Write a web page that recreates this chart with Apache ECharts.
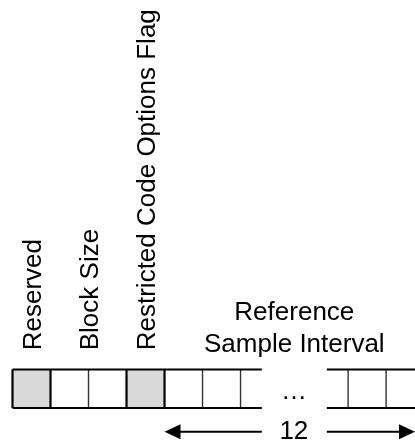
<!DOCTYPE html>
<html>
<head>
<meta charset="utf-8">
<script src="https://cdn.jsdelivr.net/npm/echarts@6/dist/echarts.min.js"></script>
<style>html,body{margin:0;padding:0;background:#fff}#c{width:415px;height:446px}</style>
</head>
<body>
<div id="c"></div>
<script>
// ---- data ----
const fieldNames = ['Reserved', 'Block Size', 'Restricted Code Options Flag', 'Reference\nSample Interval'];
const fieldStart = [0, 1, 3, 4];
const fieldBits = [1, 2, 1, 12];
const fieldShaded = [true, false, true, false];
const intervalLabel = '12';
const ellipsisText = '\u2026';

// ---- layout config ----
const FONT = 'Liberation Sans, Arial, sans-serif';
const FS = 26;
const breakStart = 6.56, breakEnd = 13.44, breakGap = 1.71;
const xMax = 15.76;
const totalBits = fieldStart[fieldStart.length - 1] + fieldBits[fieldBits.length - 1];
const segments = [[0, breakStart], [breakEnd, totalBits]];

// build bit cells
const bitData = [];
for (let b = 0; b < totalBits; b++) {
  let f = 0;
  for (let i = 0; i < fieldStart.length; i++) if (b >= fieldStart[i]) f = i;
  bitData.push([b, fieldShaded[f] ? 1 : 0, fieldStart.indexOf(b) >= 0 ? 1 : 0]);
}

const chart = echarts.init(document.getElementById('c'), null, {renderer: 'canvas'});
chart.setOption({
  animation: false,
  grid: {left: 12.5, right: 0, top: 369.5, bottom: 38},
  xAxis: {
    type: 'value', min: 0, max: xMax,
    breaks: [{start: breakStart, end: breakEnd, gap: breakGap}],
    breakArea: {show: false, itemStyle: {opacity: 0, borderWidth: 0}},
    axisLine: {show: false}, axisTick: {show: false}, axisLabel: {show: false}, splitLine: {show: false}
  },
  yAxis: {
    type: 'value', min: 0, max: 1,
    axisLine: {show: false}, axisTick: {show: false}, axisLabel: {show: false}, splitLine: {show: false}
  },
  series: [
    {
      type: 'custom', clip: false, z: 1,
      data: bitData,
      renderItem: function (params, api) {
        const b = api.value(0);
        const children = [];
        for (const s of segments) {
          const a = Math.max(b, s[0]), e = Math.min(b + 1, s[1]);
          if (e <= a) continue;
          const p0 = api.coord([a, 1]), p1 = api.coord([e, 0]);
          if (api.value(1)) {
            children.push({type: 'rect', shape: {x: p0[0], y: p0[1], width: p1[0] - p0[0], height: p1[1] - p0[1]},
              style: {fill: '#d9d9d9'}});
          }
          if (b >= s[0]) {
            const t = api.coord([b, 1]), d = api.coord([b, 0]);
            const thick = api.value(2) === 1;
            children.push({type: 'line', z2: thick ? 3 : 2, shape: {x1: t[0], y1: t[1], x2: d[0], y2: d[1]},
              style: {stroke: thick ? '#000' : '#333', lineWidth: thick ? 2.2 : 1.4}});
          }
        }
        return {type: 'group', children: children};
      }
    },
    {
      type: 'custom', clip: false, z: 2,
      data: segments,
      renderItem: function (params, api) {
        const s = api.value(0), e = api.value(1);
        const children = [];
        [1, 0].forEach(function (yv) {
          const p0 = api.coord([s, yv]), p1 = api.coord([e, yv]);
          children.push({type: 'line', shape: {x1: p0[0], y1: p0[1], x2: p1[0], y2: p1[1]},
            style: {stroke: '#000', lineWidth: 2.2}});
        });
        return {type: 'group', children: children};
      }
    },
    {
      type: 'custom', clip: false, z: 3,
      data: fieldNames.map(function (n, i) { return [i, fieldStart[i], fieldBits[i]]; }),
      renderItem: function (params, api) {
        const i = api.value(0);
        const st = api.value(1), n = api.value(2);
        if (n < 12) {
          const p = api.coord([st + n / 2 + 0.07, 1.5]);
          return {type: 'text', x: p[0], y: p[1], rotation: Math.PI / 2,
            style: {text: fieldNames[i], font: FS + 'px ' + FONT, fill: '#000', align: 'left', verticalAlign: 'middle'}};
        }
        const p = api.coord([(breakStart + breakEnd) / 2, 2.05]);
        return {type: 'text', x: p[0], y: p[1],
          style: {text: fieldNames[i], font: FS + 'px ' + FONT, fill: '#000', align: 'center', verticalAlign: 'middle', lineHeight: 32}};
      }
    },
    {
      type: 'custom', clip: false, z: 3,
      data: [[fieldStart[3], fieldStart[3] + fieldBits[3]]],
      renderItem: function (params, api) {
        const a = api.value(0), e = Math.min(api.value(1), xMax);
        const yv = -0.615;
        const L0 = api.coord([a, yv]), L1 = api.coord([breakStart, yv]);
        const R0 = api.coord([breakEnd, yv]), R1 = api.coord([e, yv]);
        const mid = api.coord([(breakStart + breakEnd) / 2 - 0.05, yv]);
        const dots = api.coord([(breakStart + breakEnd) / 2 - 0.03, 0.42]);
        const hl = 16, hh = 7.5;
        return {type: 'group', children: [
          {type: 'line', shape: {x1: L0[0] + hl - 1, y1: L0[1], x2: L1[0], y2: L1[1]}, style: {stroke: '#000', lineWidth: 2}},
          {type: 'polygon', shape: {points: [[L0[0], L0[1]], [L0[0] + hl, L0[1] - hh], [L0[0] + hl, L0[1] + hh]]}, style: {fill: '#000'}},
          {type: 'line', shape: {x1: R0[0], y1: R0[1], x2: R1[0] - hl + 1, y2: R1[1]}, style: {stroke: '#000', lineWidth: 2}},
          {type: 'polygon', shape: {points: [[R1[0], R1[1]], [R1[0] - hl, R1[1] - hh], [R1[0] - hl, R1[1] + hh]]}, style: {fill: '#000'}},
          {type: 'text', x: mid[0], y: mid[1], style: {text: intervalLabel, font: FS + 'px ' + FONT, fill: '#000', align: 'center', verticalAlign: 'middle'}},
          {type: 'text', x: dots[0], y: dots[1], style: {text: ellipsisText, font: FS + 'px ' + FONT, fill: '#000', align: 'center', verticalAlign: 'middle'}}
        ]};
      }
    }
  ]
});
</script>
</body>
</html>
